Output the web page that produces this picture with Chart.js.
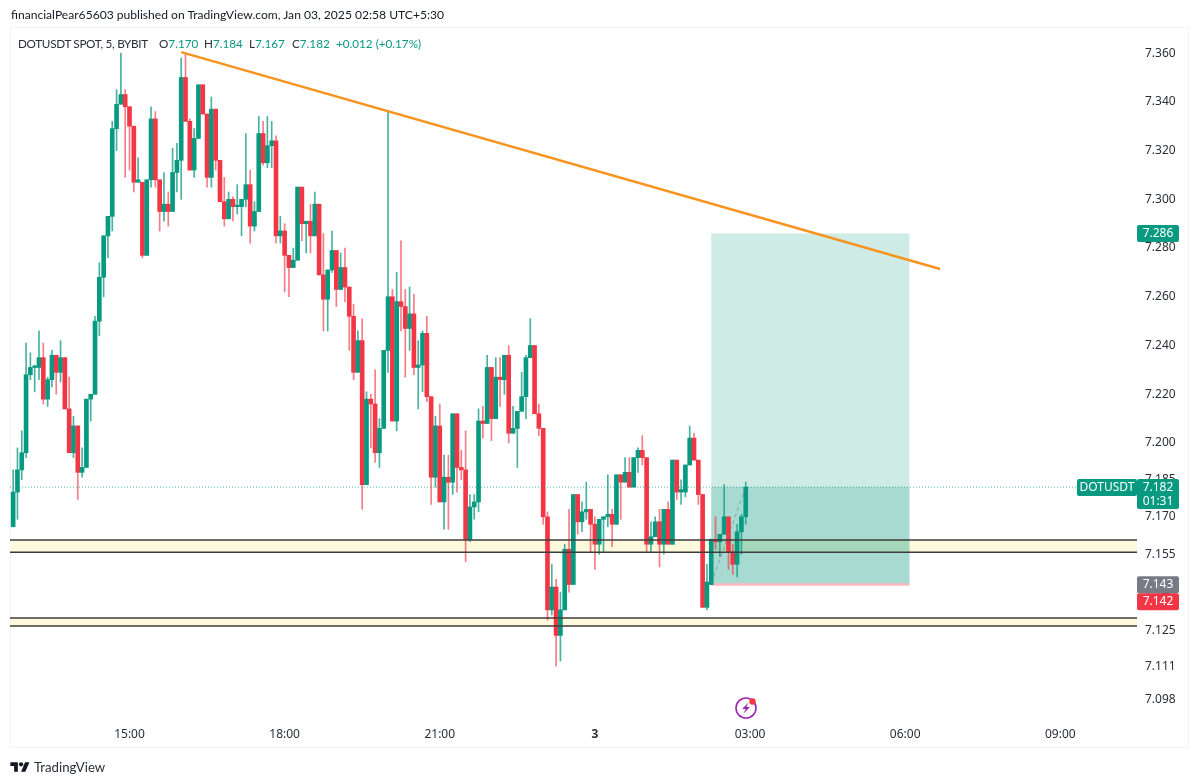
<!DOCTYPE html>
<html>
<head>
    <title>DOTUSDT SPOT, 5, BYBIT</title>
    <script src="https://cdn.jsdelivr.net/npm/chart.js@4/dist/chart.umd.js"></script>
    <style>
        body { margin: 0; background: #fff; font-family: Lato, sans-serif; color: #131722; }
        #wrap { position: relative; width: 1200px; height: 784px; overflow: hidden; }
        #frame { position: absolute; left: 10px; top: 27px; width: 1179px; height: 721px; border: 1px solid #f0f3fa; box-sizing: border-box; }
        #title { position: absolute; left: 11px; top: 6px; font-size: 12.1px; line-height: 18px; white-space: nowrap; }
        #legend { position: absolute; left: 18px; top: 34px; font-size: 11.7px; line-height: 18px; white-space: nowrap; color: #2a2e39; }
        #legend b { font-weight: normal; color: #089981; }
        #legend span { position: absolute; top: 0; }
        #logo { position: absolute; left: 10px; top: 760px; }
        #logoText { position: absolute; left: 34px; top: 758px; font-size: 13.2px; line-height: 18px; color: #2a2e39; }
        #bolt { position: absolute; left: 733px; top: 695px; }
        canvas { position: absolute; left: 0; top: 0; }
    </style>
</head>
<body>
<div id="wrap">
    <div id="frame"></div>
    <canvas id="chart" width="1200" height="784"></canvas>
    <div id="title">financialPear65603 published on TradingView.com, Jan 03, 2025 02:58 UTC+5:30</div>
    <div id="legend"><span style="left:0;letter-spacing:-0.3px">DOTUSDT SPOT, 5, BYBIT</span><span style="left:141px">O<b>7.170</b></span><span style="left:186px">H<b>7.184</b></span><span style="left:231px">L<b>7.167</b></span><span style="left:274px">C<b>7.182</b></span><span style="left:318px"><b>+0.012 (+0.17%)</b></span></div>
    <svg id="logo" width="20" height="15" viewBox="0 0 36 28"><path fill="#131722" d="M14 22H7V11H0V4h14v18zM28 22h-8l7.5-18h8L28 22z"/><circle fill="#131722" cx="20" cy="8" r="4"/></svg>
    <div id="logoText">TradingView</div>
    <svg id="bolt" width="26" height="26" viewBox="0 0 26 26">
        <circle cx="13" cy="13" r="10" fill="none" stroke="#9c27b0" stroke-width="1.6"/>
        <path d="M15.5 7.5 L9 14 h3.6 L10.5 18.5 L17 12 h-3.6 z" fill="#9c27b0"/>
        <circle cx="19.5" cy="6.5" r="3.2" fill="#f23645"/>
    </svg>
</div>

<script>
    // 5 minute candles, oldest first (15:00 is bar 27, the last bar is 02:55)
    const opens = [7.166,7.180,7.189,7.196,7.228,7.231,7.231,7.235,7.218,7.226,7.236,7.229,7.235,7.214,7.196,7.207,7.188,7.190,7.218,7.220,
        7.250,7.268,7.285,7.293,7.329,7.339,7.343,7.338,7.330,7.307,7.307,7.277,7.308,7.333,7.308,7.295,7.298,7.295,7.311,7.316,
        7.350,7.332,7.312,7.325,7.347,7.335,7.309,7.337,7.316,7.299,7.292,7.300,7.297,7.297,7.300,7.306,7.289,7.295,7.327,7.315,
        7.322,7.324,7.285,7.287,7.277,7.272,7.275,7.305,7.290,7.291,7.285,7.298,7.269,7.259,7.271,7.279,7.263,7.272,7.264,7.252,
        7.229,7.242,7.183,7.218,7.216,7.196,7.206,7.238,7.260,7.209,7.258,7.256,7.247,7.253,7.231,7.232,7.245,7.219,7.186,7.207,
        7.176,7.186,7.184,7.212,7.190,7.189,7.161,7.174,7.176,7.209,7.208,7.231,7.210,7.227,7.226,7.236,7.204,7.206,7.213,7.219,
        7.235,7.240,7.212,7.206,7.170,7.133,7.142,7.123,7.133,7.157,7.143,7.179,7.168,7.172,7.173,7.167,7.159,7.169,7.170,7.171,
        7.167,7.187,7.184,7.188,7.182,7.194,7.197,7.194,7.159,7.162,7.168,7.159,7.173,7.159,7.193,7.180,7.180,7.191,7.202,7.193,
        7.179,7.134,7.143,7.161,7.160,7.163,7.170,7.156,7.151,7.164,7.170];
    const highs = [7.189,7.198,7.205,7.241,7.237,7.232,7.246,7.241,7.227,7.238,7.236,7.242,7.235,7.227,7.211,7.207,7.198,7.218,7.220,7.252,
        7.274,7.285,7.293,7.332,7.345,7.360,7.345,7.338,7.330,7.317,7.307,7.308,7.338,7.336,7.308,7.311,7.303,7.321,7.323,7.358,
        7.360,7.333,7.329,7.347,7.347,7.335,7.342,7.337,7.316,7.309,7.303,7.301,7.306,7.300,7.327,7.312,7.299,7.334,7.332,7.334,
        7.332,7.326,7.293,7.290,7.277,7.280,7.305,7.305,7.291,7.298,7.303,7.298,7.286,7.271,7.287,7.279,7.278,7.280,7.264,7.257,
        7.246,7.251,7.221,7.220,7.230,7.210,7.238,7.336,7.263,7.270,7.283,7.263,7.264,7.261,7.242,7.246,7.252,7.219,7.211,7.216,
        7.195,7.195,7.212,7.212,7.197,7.205,7.179,7.179,7.214,7.215,7.236,7.231,7.235,7.235,7.236,7.240,7.215,7.213,7.229,7.236,
        7.251,7.240,7.216,7.206,7.172,7.151,7.145,7.140,7.159,7.173,7.179,7.179,7.176,7.184,7.173,7.170,7.169,7.170,7.187,7.173,
        7.187,7.187,7.194,7.194,7.194,7.198,7.203,7.194,7.168,7.170,7.173,7.173,7.176,7.193,7.193,7.185,7.191,7.207,7.204,7.193,
        7.179,7.151,7.161,7.170,7.163,7.183,7.170,7.159,7.167,7.171,7.184];
    const lows = [7.166,7.169,7.185,7.194,7.226,7.221,7.226,7.216,7.215,7.223,7.220,7.225,7.214,7.196,7.194,7.177,7.186,7.190,7.209,7.220,
        7.244,7.260,7.276,7.287,7.320,7.339,7.309,7.312,7.303,7.307,7.276,7.277,7.305,7.305,7.287,7.291,7.289,7.295,7.303,7.300,
        7.332,7.312,7.309,7.325,7.335,7.305,7.305,7.312,7.299,7.289,7.292,7.291,7.294,7.285,7.297,7.282,7.287,7.295,7.314,7.313,
        7.313,7.282,7.282,7.262,7.260,7.272,7.275,7.283,7.278,7.278,7.285,7.269,7.246,7.246,7.270,7.256,7.263,7.258,7.238,7.226,
        7.229,7.173,7.183,7.198,7.192,7.190,7.206,7.229,7.209,7.205,7.246,7.227,7.238,7.228,7.214,7.221,7.217,7.175,7.182,7.176,
        7.165,7.165,7.179,7.180,7.185,7.152,7.160,7.169,7.172,7.202,7.208,7.201,7.210,7.215,7.220,7.200,7.204,7.190,7.213,7.210,
        7.235,7.212,7.203,7.167,7.129,7.131,7.111,7.113,7.133,7.140,7.143,7.163,7.164,7.169,7.156,7.149,7.155,7.156,7.166,7.158,
        7.167,7.169,7.184,7.182,7.182,7.188,7.191,7.156,7.156,7.162,7.150,7.155,7.159,7.159,7.177,7.175,7.178,7.191,7.193,7.175,
        7.134,7.133,7.143,7.157,7.154,7.163,7.149,7.147,7.146,7.155,7.167];
    const closes = [7.180,7.189,7.196,7.228,7.231,7.231,7.235,7.218,7.226,7.236,7.229,7.235,7.214,7.196,7.207,7.188,7.190,7.218,7.220,7.250,
        7.268,7.285,7.293,7.329,7.339,7.343,7.338,7.330,7.307,7.308,7.277,7.308,7.333,7.308,7.295,7.298,7.295,7.311,7.316,7.350,
        7.332,7.312,7.325,7.347,7.335,7.309,7.337,7.316,7.299,7.292,7.300,7.297,7.297,7.300,7.306,7.289,7.295,7.327,7.315,7.322,
        7.324,7.285,7.287,7.277,7.272,7.275,7.305,7.290,7.291,7.285,7.298,7.269,7.259,7.271,7.279,7.263,7.272,7.264,7.252,7.229,
        7.242,7.183,7.218,7.216,7.196,7.206,7.238,7.260,7.209,7.258,7.256,7.247,7.253,7.231,7.232,7.245,7.219,7.186,7.207,7.176,
        7.186,7.184,7.212,7.190,7.189,7.161,7.174,7.176,7.209,7.208,7.231,7.210,7.227,7.226,7.236,7.204,7.206,7.213,7.219,7.235,
        7.240,7.212,7.206,7.170,7.133,7.142,7.123,7.133,7.157,7.143,7.179,7.168,7.172,7.173,7.167,7.159,7.169,7.170,7.171,7.167,
        7.187,7.184,7.188,7.182,7.194,7.197,7.194,7.159,7.162,7.168,7.159,7.173,7.159,7.193,7.180,7.181,7.191,7.202,7.193,7.179,
        7.134,7.144,7.161,7.160,7.163,7.170,7.156,7.151,7.164,7.170,7.182];

    // axis ticks
    const priceTicks = [7.36,7.34,7.32,7.30,7.28,7.26,7.24,7.22,7.20,7.185,7.17,7.155,7.14,7.125,7.111,7.098];
    const timeTicks = [27,63,99,135,171,207,243];
    const timeLabels = ['15:00','18:00','21:00','3','03:00','06:00','09:00'];

    // drawings on the chart
    const trendBars = [39, 215.1];
    const trendPrices = [7.3604, 7.2714];
    const zoneUpper = [7.1607, 7.1558];
    const zoneLower = [7.1298, 7.1267];
    const positionBars = [162, 208];
    const lastPrice = 7.182, entryPrice = 7.1435, targetPrice = 7.286, stopPrice = 7.1425;

    const green = '#089981', red = '#f23645';
    const xMin = -0.73, xMax = 260.8;

    // the price axis of the picture gets slightly wider below 7.20
    class PriceScale extends Chart.LinearScale {
        static id = 'price';
        static defaults = {};
        getPixelForValue(v) {
            return super.getPixelForValue(v < 7.2 ? v - 0.3316 * (7.2 - v) * (7.2 - v) : v);
        }
    }
    Chart.register(PriceScale);

    const bars = opens.map((_, i) => i);
    const candleColor = bars.map(i => closes[i] >= opens[i] ? green : red);
    const wickColor = bars.map(i => closes[i] >= opens[i] ? 'rgba(8,153,129,0.75)' : 'rgba(242,54,69,0.65)');

    function flatLine(price) {
        return [{ x: xMin, y: price }, { x: xMax, y: price }];
    }
    function lineSet(data, color, width, dash) {
        return { type: 'line', data, borderColor: color, borderWidth: width, borderDash: dash || [], pointRadius: 0, order: 0 };
    }

    // filled areas go under the candles
    const areas = {
        id: 'areas',
        beforeDatasetsDraw(chart) {
            const { ctx, chartArea: a, scales: { x, y } } = chart;
            const rect = (x1, x2, top, bottom, color) => {
                ctx.fillStyle = color;
                ctx.fillRect(x1, y.getPixelForValue(top), x2 - x1, y.getPixelForValue(bottom) - y.getPixelForValue(top));
            };
            rect(a.left, a.right, zoneUpper[0], zoneUpper[1], '#fdf9dc');
            rect(a.left, a.right, zoneLower[0], zoneLower[1], '#fdf9dc');
            const x1 = x.getPixelForValue(positionBars[0]), x2 = x.getPixelForValue(positionBars[1]);
            rect(x1, x2, targetPrice, entryPrice, 'rgba(8,153,129,0.2)');
            rect(x1, x2, lastPrice, entryPrice, 'rgba(8,153,129,0.2)');
            rect(x1, x2, entryPrice, stopPrice, 'rgba(242,54,69,0.35)');
        }
    };

    // coloured price tags on the right axis
    const tags = {
        id: 'tags',
        afterDraw(chart) {
            const { ctx, scales: { y } } = chart;
            const left = 1137, w = 42;
            const tag = (x, top, width, h, color, lines) => {
                ctx.fillStyle = color;
                ctx.beginPath();
                ctx.roundRect(x, top, width, h, 2);
                ctx.fill();
                ctx.fillStyle = '#fff';
                ctx.font = '12px "Noto Sans"';
                ctx.textAlign = 'center';
                ctx.textBaseline = 'middle';
                lines.forEach((t, i) => ctx.fillText(t, x + width / 2, top + 8.5 + i * 14));
            };
            const lastY = y.getPixelForValue(lastPrice);
            tag(1077, lastY - 8, 60, 17, green, ['DOTUSDT']);
            tag(left, lastY - 8, w, 30, green, [lastPrice.toFixed(3), '01:31']);
            tag(left, y.getPixelForValue(targetPrice) - 8.5, w, 17, green, ['7.286']);
            const entryY = y.getPixelForValue(entryPrice);
            tag(left, entryY - 7, w, 17, '#787b86', ['7.143']);
            tag(left, entryY + 10, w, 17, red, ['7.142']);
        }
    };

    new Chart(document.getElementById('chart'), {
        data: {
            datasets: [
                lineSet(trendBars.map((b, i) => ({ x: b, y: trendPrices[i] })), '#f7931e', 2.5),
                lineSet(flatLine(zoneUpper[0]), '#3c3c3c', 1.5),
                lineSet(flatLine(zoneUpper[1]), '#3c3c3c', 1.5),
                lineSet(flatLine(zoneLower[0]), '#3c3c3c', 1.5),
                lineSet(flatLine(zoneLower[1]), '#3c3c3c', 1.5),
                lineSet(flatLine(lastPrice), 'rgba(8,153,129,0.7)', 1, [1, 2]),
                lineSet([{ x: positionBars[0], y: entryPrice }, { x: 170, y: lastPrice }], 'rgba(120,123,134,0.6)', 1, [4, 3]),
                {
                    type: 'bar',
                    data: bars.map(i => ({ x: i, y: [opens[i], closes[i]] })),
                    backgroundColor: candleColor,
                    barThickness: 4,
                    minBarLength: 1.5,
                    grouped: false,
                    order: 1
                },
                {
                    type: 'bar',
                    data: bars.map(i => ({ x: i, y: [lows[i], highs[i]] })),
                    backgroundColor: wickColor,
                    barThickness: 1,
                    grouped: false,
                    order: 2
                }
            ]
        },
        options: {
            responsive: false,
            animation: false,
            events: [],
            layout: { padding: { left: 10, top: 28, right: 0, bottom: 0 } },
            plugins: { legend: { display: false }, tooltip: { enabled: false } },
            scales: {
                x: {
                    type: 'linear',
                    offset: false,
                    min: xMin,
                    max: xMax,
                    grid: { display: false, drawTicks: false },
                    border: { display: false },
                    afterBuildTicks: axis => { axis.ticks = timeTicks.map(v => ({ value: v })); },
                    afterFit: axis => { axis.height = 62; },
                    ticks: {
                        autoSkip: false,
                        maxRotation: 0,
                        padding: 5,
                        color: '#2a2e39',
                        font: ctx => ({ family: '"Noto Sans"', size: 12, weight: ctx.index === 3 ? 'bold' : 'normal' }),
                        callback: (v, i) => timeLabels[i]
                    }
                },
                y: {
                    type: 'price',
                    position: 'right',
                    min: 7.0855,
                    max: 7.3703,
                    grid: { display: false, drawTicks: false },
                    border: { display: false },
                    afterBuildTicks: axis => { axis.ticks = priceTicks.map(v => ({ value: v })); },
                    afterFit: axis => { axis.width = 63; },
                    ticks: {
                        autoSkip: false,
                        padding: 8,
                        color: '#2a2e39',
                        font: { family: '"Noto Sans"', size: 12 },
                        callback: v => v.toFixed(3)
                    }
                }
            }
        },
        plugins: [areas, tags]
    });
</script>
</body>
</html>
